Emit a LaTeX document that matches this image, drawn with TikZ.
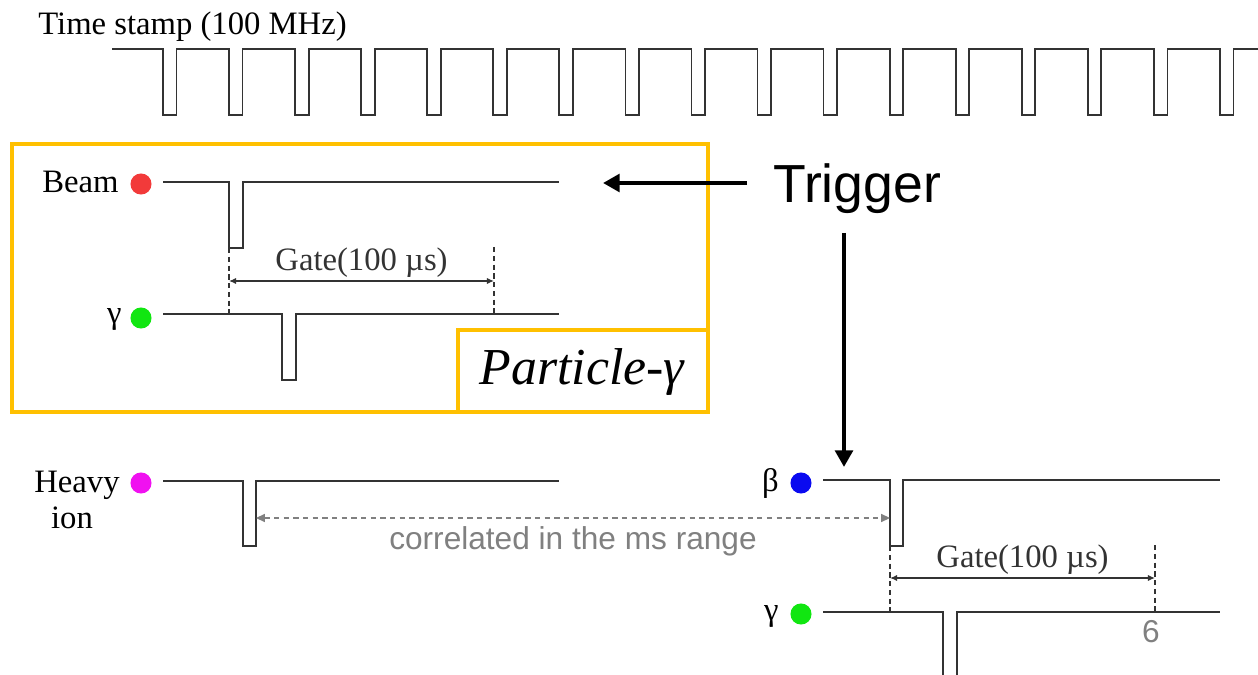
\documentclass[tikz,border=0pt]{standalone}
\usepackage{fontspec}
\setmainfont{Liberation Serif}
\newfontfamily\arialfont{Liberation Sans}
\usetikzlibrary{arrows.meta}

\definecolor{boxorange}{HTML}{FFC000}
\definecolor{siggray}{HTML}{333333}
\definecolor{dotred}{HTML}{F23A3A}
\definecolor{dotgreen}{HTML}{11E611}
\definecolor{dotmagenta}{HTML}{F011F0}
\definecolor{dotblue}{HTML}{0A0AF0}
\definecolor{notegray}{HTML}{808080}

\begin{document}
\begin{tikzpicture}[x=0.02cm, y=-0.02cm,
    sig/.style={line width=1.1pt, siggray},
    lbl/.style={font=\fontsize{18.6}{20}\selectfont, inner sep=0pt},
    dot/.style={circle, inner sep=0pt, minimum size=12pt},
    gatedash/.style={dashed, dash pattern=on 3pt off 2pt, line width=0.6pt, siggray},
    gatearrow/.style={{Latex[length=4pt,width=3.5pt]}-{Latex[length=4pt,width=3.5pt]}, line width=0.7pt, siggray},
    frame/.style={draw=boxorange, line width=2.4pt},
    bigarrow/.style={-{Triangle[length=9.5pt,width=10pt]}, line width=2.6pt, black},
    corr/.style={dash pattern=on 3pt off 2.5pt, line width=0.9pt, notegray,
        {Triangle[length=5pt,width=4.5pt]}-{Triangle[length=5pt,width=4.5pt]}}]

    \useasboundingbox (0,0) rectangle (1258,675);

    % --- Configuration ---
    \def\period{66.06} % clock period in px
    \def\pulse{13.5}   % clock pulse width

    % --- Time stamp clock ---
    \node[lbl, anchor=base west] (clkLabel) at (38,35) {Time stamp (100 MHz)};
    \draw[sig, line width=1pt] (112,49)
        \foreach \k in {0,...,16} {
            -- ({163+\period*\k},49) -- ({163+\period*\k},115)
            -- ({163+\pulse+\period*\k},115) -- ({163+\pulse+\period*\k},49)
        } -- (1258,49);

    % --- Particle-gamma frame ---
    \draw[frame] (12,144) rectangle (708,412);
    \draw[frame] (458,330) rectangle (708,412);
    \node[font=\fontsize{29.5}{32}\selectfont\itshape, inner sep=0pt] (pgLabel) at (582,372) {Particle-γ};

    % Beam
    \node[dot, fill=dotred] (beamDot) at (141,184) {};
    \node[lbl, anchor=base east] (beamLabel) at (119,193) {Beam};
    \draw[sig] (163,182) -- (229,182) -- (229,248) -- (243,248) -- (243,182) -- (559,182);

    % gamma (upper)
    \node[dot, fill=dotgreen] (gammaDot) at (141,318) {};
    \node[lbl, anchor=base east] (gammaLabel) at (122,324) {γ};
    \draw[sig] (163,314) -- (282,314) -- (282,380) -- (296,380) -- (296,314) -- (559,314);

    % gate (upper)
    \coordinate (gateAL) at (229,281);
    \coordinate (gateAR) at (494,281);
    \draw[gatedash] (229,248) -- (229,314);
    \draw[gatedash] (494,247) -- (494,314);
    \draw[gatearrow] (gateAL) -- (gateAR)
        node[midway, above, lbl, inner sep=1.5pt] (gateTextA) {Gate(100 µs)};

    % --- Trigger ---
    \node[font=\arialfont\fontsize{30.5}{34}\selectfont, inner sep=0pt, anchor=base west] (trigger) at (773,203) {Trigger};
    \coordinate (trigLeftStart) at (747,183);
    \coordinate (trigLeftTip) at (603,183);
    \coordinate (trigDownStart) at (844,233);
    \coordinate (trigDownTip) at (844,467);
    \draw[bigarrow] (trigLeftStart) -- (trigLeftTip);
    \draw[bigarrow] (trigDownStart) -- (trigDownTip);

    % --- Heavy ion ---
    \node[dot, fill=dotmagenta] (ionDot) at (141,483) {};
    \node[lbl, anchor=base east] (ionLabelA) at (120,493) {Heavy};
    \node[lbl, anchor=base] (ionLabelB) at (72,528) {ion};
    \draw[sig] (163,481) -- (243,481) -- (243,546) -- (256,546) -- (256,481) -- (559,481);

    % --- beta ---
    \node[dot, fill=dotblue] (betaDot) at (801,483) {};
    \node[lbl, anchor=base east] (betaLabel) at (779,492) {β};
    \draw[sig] (823,480) -- (890,480) -- (890,546) -- (903,546) -- (903,480) -- (1220,480);

    % correlation (heavy ion <-> beta)
    \coordinate (corrL) at (256,518);
    \coordinate (corrR) at (890,518);
    \draw[corr] (corrL) -- (corrR);
    \node[font=\arialfont\fontsize{18}{20}\selectfont, notegray] (corrLabel) at (573,541) {correlated in the ms range};

    % gamma (lower)
    \node[dot, fill=dotgreen] (gammaDotB) at (801,614) {};
    \node[lbl, anchor=base east] (gammaLabelB) at (779,620) {γ};
    \draw[sig] (823,612) -- (943,612) -- (943,676);
    \draw[sig] (957,676) -- (957,612) -- (1220,612);

    % gate (lower)
    \coordinate (gateBL) at (890,578);
    \coordinate (gateBR) at (1155,578);
    \draw[gatedash] (890,546) -- (890,612);
    \draw[gatedash] (1155,545) -- (1155,612);
    \draw[gatearrow] (gateBL) -- (gateBR)
        node[midway, above, lbl, inner sep=1.5pt] (gateTextB) {Gate(100 µs)};

    % page number
    \node[font=\arialfont\fontsize{18}{20}\selectfont, notegray] (pageNum) at (1151,632) {6};

\end{tikzpicture}
\end{document}
